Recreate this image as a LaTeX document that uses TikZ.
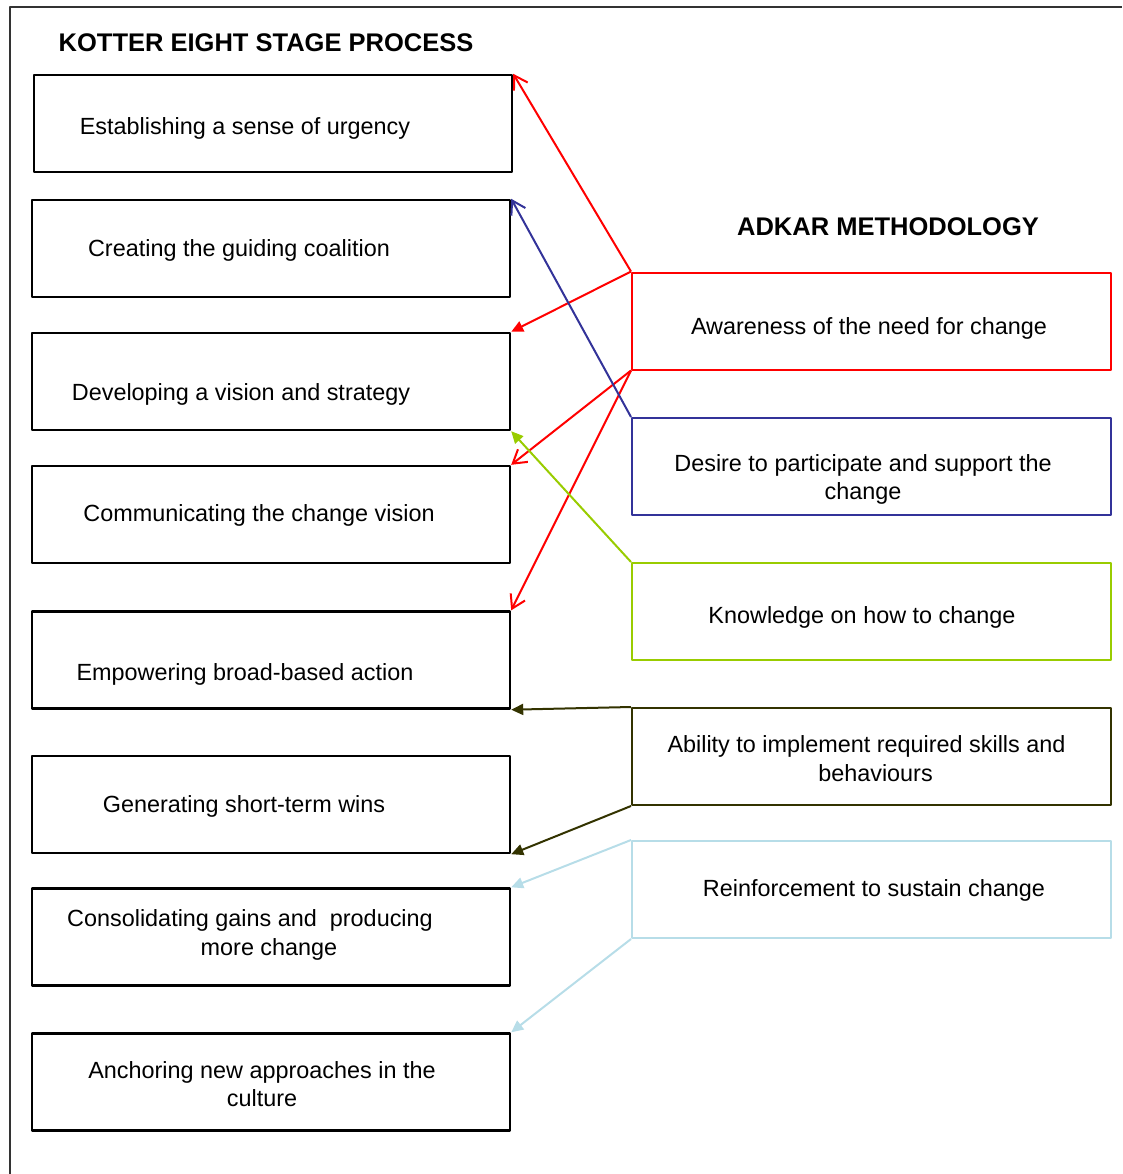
\documentclass[tikz,border=0pt]{standalone}
\usepackage{fontspec}
\setmainfont{Liberation Sans}
\usetikzlibrary{arrows.meta}
\definecolor{adkarred}{RGB}{255,0,0}
\definecolor{adkarblue}{RGB}{51,51,153}
\definecolor{adkargreen}{RGB}{153,204,0}
\definecolor{adkarolive}{RGB}{51,51,0}
\definecolor{adkarcyan}{RGB}{183,221,232}
\tikzset{
  kotter/.style={draw,line width=2.4pt,minimum width=478pt,minimum height=97pt,inner sep=0pt},
  adkar/.style={draw,line width=2pt,minimum width=479pt,minimum height=97pt,inner sep=0pt},
  openhead/.style={line width=2pt,-{Straight Barb[length=13pt,width=16pt]}},
  fullhead/.style={line width=2pt,-{Triangle[length=12pt,width=11pt]}},
  heading/.style={font=\fontsize{25.5}{30}\selectfont\bfseries}
}
\begin{document}
\begin{tikzpicture}[x=1pt,y=-1pt,line join=round,font=\fontsize{23.4}{28.5}\selectfont]
\useasboundingbox (0,0) rectangle (1122,1174);
\draw[line width=1.5pt,black!80] (10,1174)--(10,7)--(1122,7);
% titles
\node[heading] (kt) at (266,43) {KOTTER EIGHT STAGE PROCESS};
\node[heading] (at) at (888,227) {ADKAR METHODOLOGY};
% kotter stages
\foreach \i/\x/\y/\dx/\dy/\txt in {1/273/123.5/-28/-5/Establishing a sense of urgency,
  2/271/248.5/-32/-2/Creating the guiding coalition,
  3/271/381.5/-30/-13/Developing a vision and strategy,
  4/271/514.5/-12/-1/Communicating the change vision,
  5/271/660/-26/-14/Empowering broad-based action,
  6/271/804.5/-27/-2/Generating short-term wins,
  7/271/937/-21/2/{Consolidating gains and \ producing\\ \hspace*{38pt}more change},
  8/271/1082/-9/-2/{Anchoring new approaches in the\\ culture}}
  \node[kotter,label={[align=center,xshift=\dx,yshift=\dy]center:\txt}] (k\i) at (\x,\y) {};
% adkar stages
\foreach \n/\c/\y/\dx/\dy/\txt in {aw/adkarred/321/-2.5/-7/Awareness of the need for change,
  de/adkarblue/466.5/-8.5/-13/{Desire to participate and support the\\ change},
  kn/adkargreen/611.5/-9.5/-6/Knowledge on how to change,
  ab/adkarolive/756.5/-5/-2/{Ability to implement required skills and\\ \hspace*{18pt}behaviours},
  re/adkarcyan/889.5/2.5/-1/Reinforcement to sustain change}
  \node[adkar,draw=\c,label={[align=center,xshift=\dx,yshift=\dy]center:\txt}] (\n) at (871.5,\y) {};
% connectors
\draw[openhead,adkarred] (aw.north west) -- (k1.north east);
\draw[fullhead,adkarred] (aw.north west) -- (k3.north east);
\draw[openhead,adkarred] (aw.south west) -- (k4.north east);
\draw[openhead,adkarred] (aw.south west) -- (k5.north east);
\draw[openhead,adkarblue] (de.north west) -- (k2.north east);
\draw[fullhead,adkargreen] (kn.north west) -- (k3.south east);
\draw[fullhead,adkarolive] (ab.north west) -- (k5.south east);
\draw[fullhead,adkarolive] (ab.south west) -- (k6.south east);
\draw[fullhead,adkarcyan] (re.north west) -- (k7.north east);
\draw[fullhead,adkarcyan] (re.south west) -- (k8.north east);
\end{tikzpicture}
\end{document}
